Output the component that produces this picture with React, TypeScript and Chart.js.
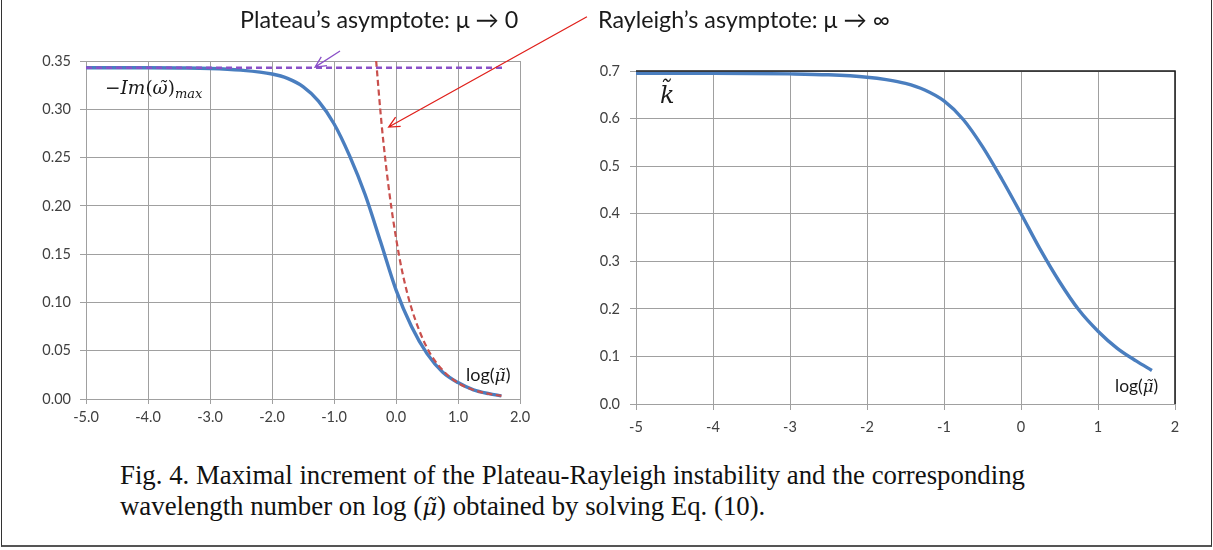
import React, { useEffect, useRef } from "react";
import { Chart, registerables } from "chart.js";
Chart.register(...registerables);

// ---- data (log10 of dimensionless viscosity) ----
const logMu = [-5, -4.5, -4, -3.5, -3, -2.5, -2, -1.75, -1.5, -1.25, -1, -0.75, -0.5, -0.25, 0, 0.25, 0.5, 0.75, 1, 1.25, 1.5, 1.7];
const growthRate = [0.343, 0.343, 0.343, 0.3428, 0.3423, 0.3405, 0.3365, 0.332, 0.3235, 0.3085, 0.285, 0.252, 0.212, 0.163, 0.113, 0.075, 0.047, 0.028, 0.017, 0.0095, 0.0055, 0.0033];
const waveNumber = [0.695, 0.695, 0.695, 0.6948, 0.694, 0.692, 0.687, 0.682, 0.674, 0.66, 0.637, 0.598, 0.541, 0.473, 0.4, 0.325, 0.257, 0.198, 0.153, 0.117, 0.09, 0.0705];
const rayleighX = [-0.32, -0.25, -0.2, -0.1, 0, 0.1, 0.25, 0.5, 0.75, 1, 1.25, 1.5, 1.7];
const rayleighY = [0.35, 0.297, 0.264, 0.21, 0.167, 0.132, 0.094, 0.053, 0.03, 0.0167, 0.0094, 0.0053, 0.0033];
const plateauX = [-5, 1.75];
const plateauY = [0.343, 0.343];

const xTicks = [-5, -4, -3, -2, -1, 0, 1, 2];
const leftYTicks = [0, 0.05, 0.1, 0.15, 0.2, 0.25, 0.3, 0.35];
const rightYTicks = [0, 0.1, 0.2, 0.3, 0.4, 0.5, 0.6, 0.7];

// annotation arrows, in left-chart data units
const arrows = [
  { fromX: -0.903, fromY: 0.3604, toX: -1.306, toY: 0.3437, color: "#8B50C8" },
  { fromX: 3.08, fromY: 0.3958, toX: -0.118, toY: 0.2816, color: "#E0201B" },
];

const BLUE = "#4A7EBF";
const RED = "#C9504D";
const PURPLE = "#8B50C8";
const GRID = "#A0A0A0";
const TICK_FONT = { family: "Lato", size: 14.5 };

const zip = (xs: number[], ys: number[]) => xs.map((x, i) => ({ x, y: ys[i] }));

const arrowPlugin = {
  id: "arrows",
  afterDatasetsDraw(chart: any) {
    const { ctx, scales } = chart;
    const sx = scales.x, sy = scales.y;
    ctx.save();
    arrows.forEach((a) => {
      const x1 = sx.getPixelForValue(a.fromX), y1 = sy.getPixelForValue(a.fromY);
      const x2 = sx.getPixelForValue(a.toX), y2 = sy.getPixelForValue(a.toY);
      ctx.strokeStyle = a.color;
      ctx.lineWidth = 1.3;
      ctx.beginPath();
      ctx.moveTo(x1, y1);
      ctx.lineTo(x2, y2);
      const ang = Math.atan2(y2 - y1, x2 - x1);
      const L = 12, w = 0.45;
      ctx.moveTo(x2 - L * Math.cos(ang - w), y2 - L * Math.sin(ang - w));
      ctx.lineTo(x2, y2);
      ctx.lineTo(x2 - L * Math.cos(ang + w), y2 - L * Math.sin(ang + w));
      ctx.stroke();
    });
    ctx.restore();
  },
};

const frameTopRight = {
  id: "frameTopRight",
  afterDatasetsDraw(chart: any) {
    const { ctx, chartArea } = chart;
    ctx.save();
    ctx.strokeStyle = "#1a1a1a";
    ctx.lineWidth = 1.5;
    ctx.beginPath();
    ctx.moveTo(chartArea.left, chartArea.top);
    ctx.lineTo(chartArea.right, chartArea.top);
    ctx.lineTo(chartArea.right, chartArea.bottom);
    ctx.stroke();
    ctx.restore();
  },
};

function LeftChart() {
  const ref = useRef<HTMLCanvasElement>(null);
  useEffect(() => {
    const chart = new Chart(ref.current!, {
      type: "line",
      data: {
        datasets: [
          { data: zip(plateauX, plateauY), borderColor: PURPLE, borderWidth: 2.5, borderDash: [6, 4], pointRadius: 0, fill: false },
          { data: zip(rayleighX, rayleighY), borderColor: RED, borderWidth: 2.2, borderDash: [6, 3.5], pointRadius: 0, fill: false, cubicInterpolationMode: "monotone" },
          { data: zip(logMu, growthRate), borderColor: BLUE, borderWidth: 3.4, pointRadius: 0, fill: false, cubicInterpolationMode: "monotone" },
        ],
      },
      options: {
        animation: false,
        responsive: false,
        layout: { padding: { top: 61, right: 80, left: 0, bottom: 0 } },
        plugins: { legend: { display: false }, tooltip: { enabled: false } },
        scales: {
          x: {
            type: "linear", min: -5, max: 2,
            afterBuildTicks: (s: any) => { s.ticks = xTicks.map((v) => ({ value: v })); },
            afterFit: (s: any) => { s.height = 41; },
            ticks: { callback: (v: any) => Number(v).toFixed(1), font: TICK_FONT, color: "#404040", padding: 5, maxRotation: 0 },
            grid: { color: GRID, tickLength: 5 },
            border: { color: GRID },
          },
          y: {
            type: "linear", min: 0, max: 0.35,
            afterBuildTicks: (s: any) => { s.ticks = leftYTicks.map((v) => ({ value: v })); },
            afterFit: (s: any) => { s.width = 86; },
            ticks: { callback: (v: any) => Number(v).toFixed(2), font: TICK_FONT, color: "#404040", padding: 9 },
            grid: { color: GRID, tickLength: 6 },
            border: { color: GRID },
          },
        },
      },
      plugins: [arrowPlugin],
    } as any);
    return () => chart.destroy();
  }, []);
  return <canvas ref={ref} width={600} height={440} style={{ position: "absolute", left: 0, top: 0, width: 600, height: 440 }} />;
}

function RightChart() {
  const ref = useRef<HTMLCanvasElement>(null);
  useEffect(() => {
    const chart = new Chart(ref.current!, {
      type: "line",
      data: {
        datasets: [
          { data: zip(logMu, waveNumber), borderColor: BLUE, borderWidth: 3.4, pointRadius: 0, fill: false, cubicInterpolationMode: "monotone" },
        ],
      },
      options: {
        animation: false,
        responsive: false,
        layout: { padding: { top: 71, right: 38, left: 0, bottom: 0 } },
        plugins: { legend: { display: false }, tooltip: { enabled: false } },
        scales: {
          x: {
            type: "linear", min: -5, max: 2,
            afterBuildTicks: (s: any) => { s.ticks = xTicks.map((v) => ({ value: v })); },
            afterFit: (s: any) => { s.height = 36; },
            ticks: { callback: (v: any) => String(v), font: TICK_FONT, color: "#404040", padding: 9, maxRotation: 0 },
            grid: { color: GRID, tickLength: 6 },
            border: { color: GRID },
          },
          y: {
            type: "linear", min: 0, max: 0.7,
            afterBuildTicks: (s: any) => { s.ticks = rightYTicks.map((v) => ({ value: v })); },
            afterFit: (s: any) => { s.width = 76; },
            ticks: { callback: (v: any) => Number(v).toFixed(1), font: TICK_FONT, color: "#404040", padding: 10 },
            grid: { color: GRID, tickLength: 6 },
            border: { color: GRID },
          },
        },
      },
      plugins: [frameTopRight],
    } as any);
    return () => chart.destroy();
  }, []);
  return <canvas ref={ref} width={653} height={440} style={{ position: "absolute", left: 560, top: 0, width: 653, height: 440 }} />;
}

const label = (left: number, cy: number, size: number, extra: React.CSSProperties = {}): React.CSSProperties => ({
  position: "absolute",
  left,
  top: cy - size * 0.6,
  fontSize: size,
  lineHeight: `${size * 1.2}px`,
  whiteSpace: "nowrap",
  color: "#1a1a1a",
  ...extra,
});

const MATH = "'DejaVu Serif', 'Liberation Serif', serif";
const SANS = "Lato, 'Open Sans', sans-serif";

export default function App() {
  return (
    <div style={{ position: "absolute", left: 0, top: 0, width: 1213, height: 550, background: "#fff", overflow: "hidden" }}>
      <div style={{ position: "absolute", left: 1, top: -2, width: 1209, height: 547, borderLeft: "1.5px solid #333", borderRight: "1.5px solid #333", borderBottom: "2px solid #555" }} />
      <LeftChart />
      <RightChart />
      <div style={label(240, 20, 23.3, { fontFamily: SANS })}>Plateau’s asymptote: μ → 0</div>
      <div style={label(598, 20, 23.3, { fontFamily: SANS })}>Rayleigh’s asymptote: μ → ∞</div>
      <div style={label(105, 88, 18.5, { fontFamily: MATH })}>
        −<i>Im</i>(<i>ω̃</i>)<sub style={{ fontSize: 13, fontStyle: "italic", verticalAlign: "-4px" }}>max</sub>
      </div>
      <div style={label(466, 375, 18, { fontFamily: SANS })}>
        log(<i style={{ fontFamily: MATH, fontSize: 17 }}>μ̃</i>)
      </div>
      <div style={label(1115, 385, 17.5, { fontFamily: SANS })}>
        log(<i style={{ fontFamily: MATH, fontSize: 16.5 }}>μ̃</i>)
      </div>
      <div style={label(660, 95, 24, { fontFamily: MATH, fontStyle: "italic" })}>k̃</div>
      <div style={{ position: "absolute", left: 120, top: 460, fontFamily: "'Liberation Serif', serif", fontSize: 26.8, lineHeight: "31px", color: "#111", whiteSpace: "nowrap" }}>
        <div>Fig. 4. Maximal increment of the Plateau-Rayleigh instability and the corresponding</div>
        <div>wavelength number on log (<i style={{ fontFamily: MATH, fontSize: 23 }}>μ̃</i>) obtained by solving Eq. (10).</div>
      </div>
    </div>
  );
}
